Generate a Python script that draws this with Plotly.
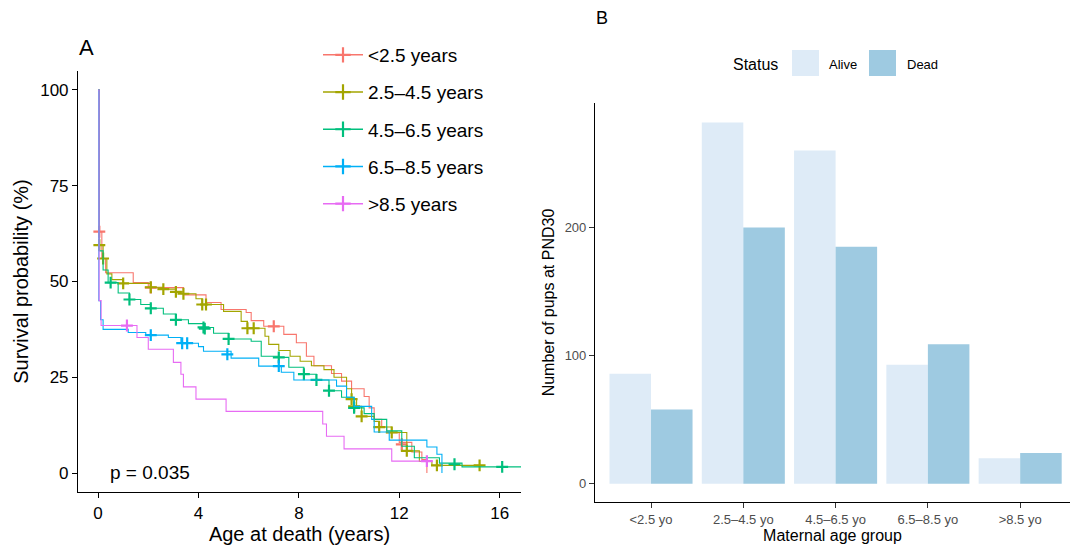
import plotly.graph_objects as go

W, H = 1070, 549

# ---------------- Panel A data (Kaplan-Meier step curves, % surviving) ----------------
groups = ["<2.5 years", "2.5–4.5 years", "4.5–6.5 years", "6.5–8.5 years", ">8.5 years"]
colors = ["#F8766D", "#A3A500", "#00BF7D", "#00B0F6", "#E76BF3"]

g1_time = [0, 0.05, 0.15, 0.3, 1.4, 2.0, 3.4, 4.3, 4.9, 5.9, 6.1, 6.6, 7.4, 7.9, 8.3, 8.6, 9.3, 9.7,
           10.1, 10.6, 10.8, 11.0, 11.3, 11.5, 12.0, 12.5, 12.9, 13.1]
g1_surv = [100, 63, 56, 52.3, 49.7, 48.4, 46.5, 44.5, 42.7, 41.9, 39.8, 38.3, 36.2, 34, 30.5, 28, 26, 24,
           22, 20, 17, 14, 12, 10.5, 8, 5.5, 3.5, 0]
g1_cens_t = [0.05, 2.1, 7.0, 12.1]
g1_cens_s = [63, 48.4, 38.3, 7.5]

g2_time = [0, 0.05, 0.2, 0.35, 0.55, 1.0, 2.1, 2.6, 3.1, 3.4, 3.9, 4.15, 5.0, 5.7, 5.95, 6.65, 6.8, 7.2,
           7.65, 8.05, 8.5, 9.0, 9.4, 9.9, 10.1, 10.3, 10.5, 11.0, 11.2, 11.7, 12.3, 12.8, 13.3, 15.2]
g2_surv = [100, 59.5, 56, 52, 50.5, 49.5, 48.5, 48, 47.3, 46.8, 45.5, 44, 42.2, 39.6, 37.8, 35.7, 33.6, 32,
           30.5, 29.2, 28, 27, 25, 22, 19.3, 17.4, 14.8, 13.5, 12, 10.6, 5.8, 3, 2, 2]
g2_cens_t = [0.05, 0.2, 1.0, 2.1, 2.6, 3.1, 3.4, 4.15, 4.3, 5.95, 6.2, 10.1, 10.2, 10.5, 11.2, 11.7, 12.3, 13.5, 15.2]
g2_cens_s = [59.5, 56, 49.5, 48.5, 48, 47.3, 46.8, 44, 44, 37.8, 37.8, 19.3, 17.4, 14.8, 12, 10.6, 5.8, 2, 2]

g3_time = [0, 0.05, 0.2, 0.4, 0.8, 1.25, 1.7, 2.1, 2.6, 3.1, 3.6, 4.2, 4.6, 5.2, 6.1, 6.5, 7.2, 7.6, 8.2,
           8.7, 9.2, 9.7, 10.2, 10.6, 11.0, 11.5, 12.1, 12.6, 13.6, 14.5, 16.85]
g3_surv = [100, 58, 53, 49.7, 47, 45.3, 44, 43, 41.5, 40, 39, 38, 36.5, 35, 34.4, 30.5, 30.2, 27.6, 25.8,
           24.3, 21.5, 19.8, 17, 15.5, 14, 11, 7, 4, 2.6, 1.6, 1.6]
g3_cens_t = [0.5, 1.25, 2.1, 3.1, 4.2, 4.25, 5.2, 7.2, 8.2, 8.7, 9.2, 10.2, 14.2, 16.1]
g3_cens_s = [49.7, 45.3, 43, 40, 38, 37.7, 35, 30.2, 25.8, 24.3, 21.5, 17, 2.3, 1.6]

g4_time = [0, 0.03, 0.1, 0.2, 1.2, 1.9, 2.8, 3.3, 4.0, 4.2, 5.3, 6.4, 7.3, 7.8, 9.5, 9.9, 10.2, 10.9,
           11.0, 11.6, 13.1, 13.5, 13.7]
g4_surv = [100, 45, 40, 37.5, 36.7, 36, 35.4, 33.9, 33, 31.8, 30, 27.9, 26.3, 24.3, 22.7, 19.8, 17.4, 14,
           10.7, 8.6, 6.8, 4.9, 0]
g4_cens_t = [2.1, 3.35, 3.55, 5.15, 7.2]
g4_cens_s = [36, 33.9, 33.9, 31, 27.9]

g5_time = [0, 0.04, 0.12, 1.55, 2.0, 3.0, 3.3, 3.4, 3.9, 5.1, 8.95, 9.1, 9.8, 11.7, 13.1]
g5_surv = [100, 45, 38.5, 35.4, 32.3, 28.9, 25.8, 22.5, 19.3, 16.1, 12.8, 9.6, 6.3, 3.1, 3.1]
g5_cens_t = [1.15, 13.1]
g5_cens_s = [38.5, 3.1]

curves = [
    (g1_time, g1_surv, g1_cens_t, g1_cens_s),
    (g2_time, g2_surv, g2_cens_t, g2_cens_s),
    (g3_time, g3_surv, g3_cens_t, g3_cens_s),
    (g4_time, g4_surv, g4_cens_t, g4_cens_s),
    (g5_time, g5_surv, g5_cens_t, g5_cens_s),
]
p_value_text = "p = 0.035"

# ---------------- Panel B data (counts of pups at PND30) ----------------
age_groups = ["<2.5 yo", "2.5–4.5 yo", "4.5–6.5 yo", "6.5–8.5 yo", ">8.5 yo"]
alive_counts = [86, 282, 260, 93, 20]
dead_counts = [58, 200, 185, 109, 24]
bar_colors = {"Alive": "#DEEBF7", "Dead": "#9ECAE1"}

FONT = "Liberation Sans, Arial, Helvetica, sans-serif"

fig = go.Figure()

for i, (t, s, ct, cs) in enumerate(curves):
    fig.add_trace(go.Scatter(
        x=t, y=s, mode="lines", line=dict(color=colors[i], width=1.1, shape="hv"),
        showlegend=False, hoverinfo="skip", xaxis="x", yaxis="y"))
    fig.add_trace(go.Scatter(
        x=ct, y=cs, mode="markers",
        marker=dict(symbol="cross-thin", size=8.5, line=dict(color=colors[i], width=2.2)),
        showlegend=False, hoverinfo="skip", xaxis="x", yaxis="y"))

# legend entries for panel A
for i, g in enumerate(groups):
    fig.add_trace(go.Scatter(
        x=[None], y=[None], mode="lines+markers", name=g, legendgroup=g,
        line=dict(color=colors[i], width=1.5),
        marker=dict(symbol="cross-thin", size=11, line=dict(color=colors[i], width=2.2)),
        xaxis="x", yaxis="y", legend="legend"))

# Panel B bars
fig.add_trace(go.Bar(x=age_groups, y=alive_counts, name="Alive", marker_color=bar_colors["Alive"],
                     marker_line_width=0, showlegend=False, xaxis="x2", yaxis="y2"))
fig.add_trace(go.Bar(x=age_groups, y=dead_counts, name="Dead", marker_color=bar_colors["Dead"],
                     marker_line_width=0, showlegend=False, xaxis="x2", yaxis="y2"))

def px(x):
    return x / W

def py(y):
    return 1 - y / H

axis_common = dict(showline=True, linecolor="black", linewidth=1.1, ticks="outside", ticklen=5,
                   tickwidth=1.1, showgrid=False, zeroline=False)

fig.update_layout(
    width=W, height=H,
    margin=dict(l=0, r=0, t=0, b=0),
    paper_bgcolor="white", plot_bgcolor="white",
    font=dict(family=FONT, color="black"),
    barmode="group", bargap=0.1, bargroupgap=0,
    xaxis=dict(domain=[px(78), px(521)], range=[-0.8, 16.85], tickvals=[0, 4, 8, 12, 16],
               tickcolor="black", tickfont=dict(size=17, color="black"),
               title=dict(text="Age at death (years)", font=dict(size=20), standoff=3),
               anchor="y", **axis_common),
    yaxis=dict(domain=[py(492.2), py(70.8)], range=[-5, 105], tickvals=[0, 25, 50, 75, 100],
               tickcolor="black", tickfont=dict(size=17, color="black"),
               title=dict(text="Survival probability (%)", font=dict(size=20), standoff=6),
               anchor="x", **axis_common),
    xaxis2=dict(domain=[px(595), 1.0], range=[-0.607, 4.54], type="category",
                tickcolor="#333333", tickfont=dict(size=13, color="#4D4D4D"),
                title=dict(text="Maternal age group", font=dict(size=16), standoff=2),
                anchor="y2", **axis_common),
    yaxis2=dict(domain=[py(502), py(103)], range=[-14.15, 297.15], tickvals=[0, 100, 200],
                tickcolor="#333333", tickfont=dict(size=13, color="#4D4D4D"),
                title=dict(text="Number of pups at PND30", font=dict(size=16), standoff=6),
                anchor="x2", **axis_common),
    legend=dict(x=px(318), y=py(36), xanchor="left", yanchor="top", font=dict(size=19),
                bgcolor="rgba(0,0,0,0)", tracegroupgap=9.5, itemwidth=40, traceorder="grouped"),
)

annotations = [
    dict(text="A", x=px(86), y=py(48), xref="paper", yref="paper", showarrow=False,
         font=dict(size=22), xanchor="center", yanchor="middle"),
    dict(text="B", x=px(602), y=py(18), xref="paper", yref="paper", showarrow=False,
         font=dict(size=18), xanchor="center", yanchor="middle"),
    dict(text=p_value_text, x=0.4, y=0.2, xref="x", yref="y", showarrow=False,
         font=dict(size=19), xanchor="left", yanchor="middle"),
    dict(text="Status", x=px(731), y=py(64), xref="paper", yref="paper", showarrow=False,
         font=dict(size=16), xanchor="left", yanchor="middle"),
    dict(text="Alive", x=px(827), y=py(64), xref="paper", yref="paper", showarrow=False,
         font=dict(size=13), xanchor="left", yanchor="middle"),
    dict(text="Dead", x=px(905), y=py(64), xref="paper", yref="paper", showarrow=False,
         font=dict(size=13), xanchor="left", yanchor="middle"),
]
fig.update_layout(annotations=annotations)

shapes = [
    dict(type="rect", xref="paper", yref="paper", x0=px(792), x1=px(819), y0=py(76), y1=py(50),
         fillcolor=bar_colors["Alive"], line=dict(width=0)),
    dict(type="rect", xref="paper", yref="paper", x0=px(869), x1=px(896), y0=py(76), y1=py(50),
         fillcolor=bar_colors["Dead"], line=dict(width=0)),
]
fig.update_layout(shapes=shapes)

fig.write_html("out.html")
